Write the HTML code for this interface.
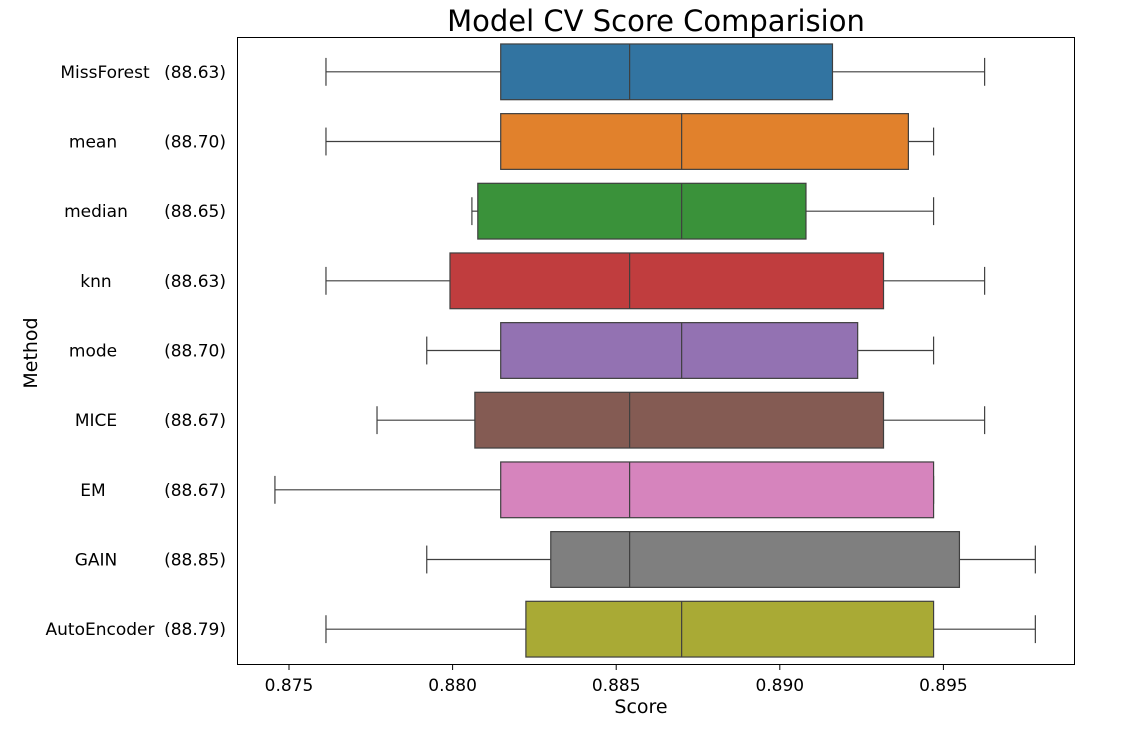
<!DOCTYPE html>
<html><head><meta charset="utf-8"><style>
body{margin:0;background:#fff;font-family:"Liberation Sans","DejaVu Sans",sans-serif}
</style></head><body>
<svg id="chart" width="1130" height="739" xmlns="http://www.w3.org/2000/svg" font-family="DejaVu Sans, Liberation Sans, sans-serif">
<text x="656" y="31" text-anchor="middle" font-size="29" fill="#000">Model CV Score Comparision</text>
<text x="641" y="713" text-anchor="middle" font-size="19">Score</text>
<text x="37" y="353" text-anchor="middle" font-size="19" transform="rotate(-90 37 353)">Method</text>
<g id="marks"></g>
<rect x="237.5" y="37.5" width="837" height="627" fill="none" stroke="#000" stroke-width="1"/>
</svg>
<script>
const methods=["MissForest","mean","median","knn","mode","MICE","EM","GAIN","AutoEncoder"];
const meanLabels=["(88.63)","(88.70)","(88.65)","(88.63)","(88.70)","(88.67)","(88.67)","(88.85)","(88.79)"];
const colors=["#3274a1","#e1812c","#3a923a","#c03d3e","#9372b2","#845b53","#d684bd","#7f7f7f","#a9aa35"];
const whiskerLow=[0.87613,0.87613,0.88059,0.87613,0.87921,0.87769,0.87457,0.87921,0.87613];
const q1=[0.88147,0.88147,0.88077,0.87992,0.88147,0.88068,0.88147,0.8830,0.88224];
const median=[0.88541,0.88700,0.88700,0.88541,0.88700,0.88541,0.88541,0.88541,0.88700];
const q3=[0.89161,0.89393,0.8908,0.89317,0.89238,0.89317,0.8947,0.89549,0.8947];
const whiskerHigh=[0.89626,0.8947,0.8947,0.89626,0.8947,0.89626,0.8947,0.89781,0.89781];
const xTicks=[0.875,0.880,0.885,0.890,0.895];
const NS="http://www.w3.org/2000/svg";
const g=document.getElementById('marks');
const X=v=>289+(v-0.875)/0.005*163.6;
const plotTop=37,plotBottom=664,band=(plotBottom-plotTop)/methods.length;
const Y=i=>plotTop+band*(i+0.5);
const nameX={MissForest:105,mean:93,median:96,knn:96,mode:93,MICE:96,EM:93,GAIN:96,AutoEncoder:100};
function mk(t,a,p){const e=document.createElementNS(NS,t);for(const k in a)e.setAttribute(k,a[k]);(p||g).appendChild(e);return e;}
xTicks.forEach(t=>{
 const l=mk('line',{x1:X(t),x2:X(t),y1:664,y2:670,stroke:'#000'});
 
 
 const tx=mk('text',{x:X(t),y:691,'text-anchor':'middle','font-size':'17'});
 tx.textContent=t.toFixed(3);
 
 
});
methods.forEach((m,i)=>{
 const y=Y(i),h=band*0.8,c='#3f3f3f';
 const grp=mk('g',{});
 
 
 mk('line',{x1:X(whiskerLow[i]),x2:X(q1[i]),y1:y,y2:y,stroke:c,'stroke-width':1.2},grp);
 mk('line',{x1:X(q3[i]),x2:X(whiskerHigh[i]),y1:y,y2:y,stroke:c,'stroke-width':1.2},grp);
 mk('line',{x1:X(whiskerLow[i]),x2:X(whiskerLow[i]),y1:y-h/4,y2:y+h/4,stroke:c,'stroke-width':1.2},grp);
 mk('line',{x1:X(whiskerHigh[i]),x2:X(whiskerHigh[i]),y1:y-h/4,y2:y+h/4,stroke:c,'stroke-width':1.2},grp);
 mk('rect',{x:X(q1[i]),y:y-h/2,width:X(q3[i])-X(q1[i]),height:h,fill:colors[i],stroke:c,'stroke-width':1.2},grp);
 mk('line',{x1:X(median[i]),x2:X(median[i]),y1:y-h/2,y2:y+h/2,stroke:c,'stroke-width':1.2},grp);
 const a=mk('text',{x:nameX[m],y:y+6,'text-anchor':'middle','font-size':'17'});
 a.textContent=m;
 
 
 const b=mk('text',{x:226,y:y+6,'text-anchor':'end','font-size':'17'});
 b.textContent=meanLabels[i];
 
 
});
</script>
</body></html>
